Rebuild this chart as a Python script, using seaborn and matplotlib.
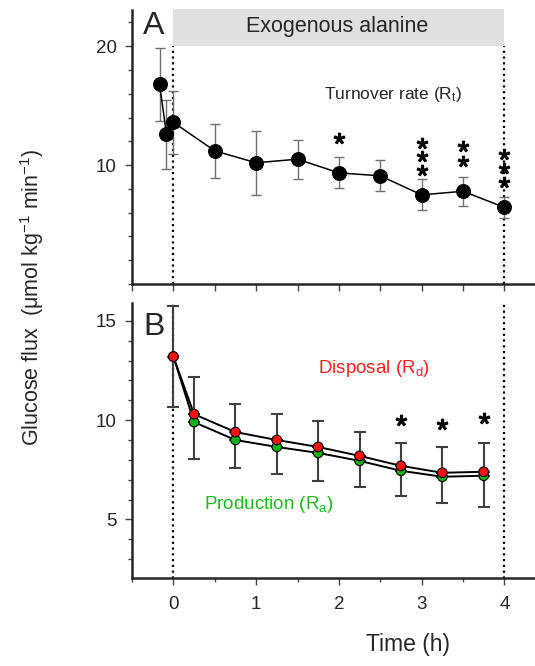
import numpy as np
import pandas as pd
import matplotlib
matplotlib.use("Agg")
import matplotlib.pyplot as plt
from matplotlib.ticker import MultipleLocator
import seaborn as sns

# ---------------- data ----------------
a_time = [-1/6, -1/12, 0, 0.5, 1.0, 1.5, 2.0, 2.5, 3.0, 3.5, 4.0]
a_rt = [16.8, 12.6, 13.6, 11.2, 10.2, 10.5, 9.35, 9.1, 7.5, 7.8, 6.45]
a_err = [3.05, 2.9, 2.65, 2.3, 2.7, 1.65, 1.3, 1.3, 1.3, 1.2, 0.9]

b_time = [0, 0.25, 0.75, 1.25, 1.75, 2.25, 2.75, 3.25, 3.75]
b_rd = [13.2, 10.3, 9.4, 9.0, 8.65, 8.2, 7.7, 7.35, 7.4]
b_ra = [13.2, 9.9, 9.0, 8.65, 8.35, 7.95, 7.45, 7.15, 7.2]
b_rd_err = [2.55, 1.85, 1.4, 1.3, 1.3, 1.2, 1.17, 1.3, 1.47]
b_ra_err = [2.55, 1.87, 1.43, 1.38, 1.4, 1.32, 1.25, 1.34, 1.58]

a_star_x = [2.0, 3.0, 3.0, 3.0, 3.5, 3.5, 4.0, 4.0, 4.0]
a_star_y = [12.3, 11.85, 10.75, 9.6, 11.6, 10.35, 10.9, 9.8, 8.6]
b_star_x = [2.75, 3.25, 3.75]
b_star_y = [10.0, 9.8, 10.1]

x_ticks = [0, 1, 2, 3, 4]

# ---------------- style ----------------
sns.set_style("ticks")
plt.rcParams["font.family"] = ["Liberation Sans", "DejaVu Sans"]
plt.rcParams["mathtext.fontset"] = "custom"
plt.rcParams["mathtext.rm"] = "Liberation Sans"
plt.rcParams["mathtext.it"] = "Liberation Sans"
plt.rcParams["axes.linewidth"] = 1.8

W, H = 535, 666
fig = plt.figure(figsize=(W / 100, H / 100), dpi=100)
axA = fig.add_axes([132 / W, 1 - 284 / H, 403 / W, 274 / H])
axB = fig.add_axes([132 / W, 1 - 578 / H, 403 / W, 275 / H])

dot = (0, (1, 1.6))

# ---------------- panel A ----------------
dfA = pd.DataFrame({"t": a_time, "rt": a_rt})
axA.fill_between([0, 4], 20, 23.1, color="#e0e0e0", lw=0, zorder=0, clip_on=False)
axA.plot([0, 0], [0, 20], color="black", ls=dot, lw=1.6, zorder=1)
axA.plot([4, 4], [0, 20], color="black", ls=dot, lw=1.6, zorder=1)
axA.errorbar(a_time, a_rt, yerr=a_err, fmt="none", ecolor="#707070",
             elinewidth=1.0, capsize=3.5, capthick=1.0, zorder=2)
sns.lineplot(data=dfA, x="t", y="rt", ax=axA, color="black", lw=1.1,
             marker="o", markersize=10, markeredgecolor="black",
             sort=False, estimator=None, zorder=3)
axA.plot(a_star_x, a_star_y, ls="none", marker="$*$", ms=7.5, color="black")
axA.text(1.98, 21.65, "Exogenous alanine", ha="center", va="center", fontsize=15.5)
axA.text(2.65, 15.9, "Turnover rate (R$_t$)", ha="center", va="center", fontsize=12.5)

axA.set_xlim(-0.5, 4.37)
axA.set_ylim(0, 23.05)
axA.yaxis.set_minor_locator(MultipleLocator(2))
axA.xaxis.set_major_locator(MultipleLocator(0.5))
axA.set_xticklabels([])
axA.set_yticks([10, 20])
axA.set_xlabel("")
axA.set_ylabel("")

# ---------------- panel B ----------------
dfB = pd.DataFrame({
    "t": b_time + b_time,
    "flux": b_ra + b_rd,
    "series": ["Production"] * len(b_time) + ["Disposal"] * len(b_time),
})
axB.plot([0, 0], [0, 16], color="black", ls=dot, lw=1.6, zorder=1)
axB.plot([4, 4], [0, 16], color="black", ls=dot, lw=1.6, zorder=1)
zeros = [0] * len(b_time)
axB.errorbar(b_time, b_ra, yerr=[b_ra_err, zeros], fmt="none", ecolor="#404040",
             elinewidth=1.5, capsize=4, capthick=1.5, zorder=2)
axB.errorbar(b_time, b_rd, yerr=[zeros, b_rd_err], fmt="none", ecolor="#404040",
             elinewidth=1.5, capsize=4, capthick=1.5, zorder=2)
sns.lineplot(data=dfB, x="t", y="flux", units="series", estimator=None,
             ax=axB, color="black", lw=1.4, sort=False, zorder=3)
sns.scatterplot(data=dfB, x="t", y="flux", hue="series",
                palette={"Production": "#10b010", "Disposal": "#ff1010"},
                hue_order=["Production", "Disposal"],
                s=48, edgecolor="black", linewidth=0.8, ax=axB,
                legend=False, zorder=4)
axB.plot(b_star_x, b_star_y, ls="none", marker="$*$", ms=7.5, color="black")
axB.text(2.42, 12.6, "Disposal (R$_d$)", ha="center", va="center",
         fontsize=13.5, color="#ff2020")
axB.text(1.15, 5.75, "Production (R$_a$)", ha="center", va="center",
         fontsize=13.5, color="#20b820")

axB.set_xlim(-0.5, 4.37)
axB.set_ylim(2.05, 15.9)
axB.set_yticks([5, 10, 15])
axB.yaxis.set_minor_locator(MultipleLocator(1))
axB.set_xticks(x_ticks)
axB.set_xticklabels([str(v) for v in x_ticks])
axB.xaxis.set_minor_locator(MultipleLocator(0.5))
axB.set_xlabel("")
axB.set_ylabel("")

for ax in (axA, axB):
    sns.despine(ax=ax)
    ax.tick_params(axis="both", which="major", direction="out", length=5,
                   width=1.0, labelsize=13.5, color="#444444")
    ax.tick_params(axis="both", which="minor", direction="out", length=3,
                   width=1.0, color="#444444")
    ax.tick_params(axis="x", pad=8)
    ax.tick_params(axis="y", pad=6)

fig.text(154 / W, 1 - 26 / H, "A", ha="center", va="center", fontsize=23)
fig.text(154 / W, 1 - 327 / H, "B", ha="center", va="center", fontsize=23)
fig.text(32 / W, 1 - 297 / H, "Glucose flux  (μmol kg$^{-1}$ min$^{-1}$)",
         rotation=90, ha="center", va="center", fontsize=15.5)
fig.text(408 / W, 1 - 645 / H, "Time (h)", ha="center", va="center", fontsize=16.5)

fig.savefig("out.png", dpi=100)
